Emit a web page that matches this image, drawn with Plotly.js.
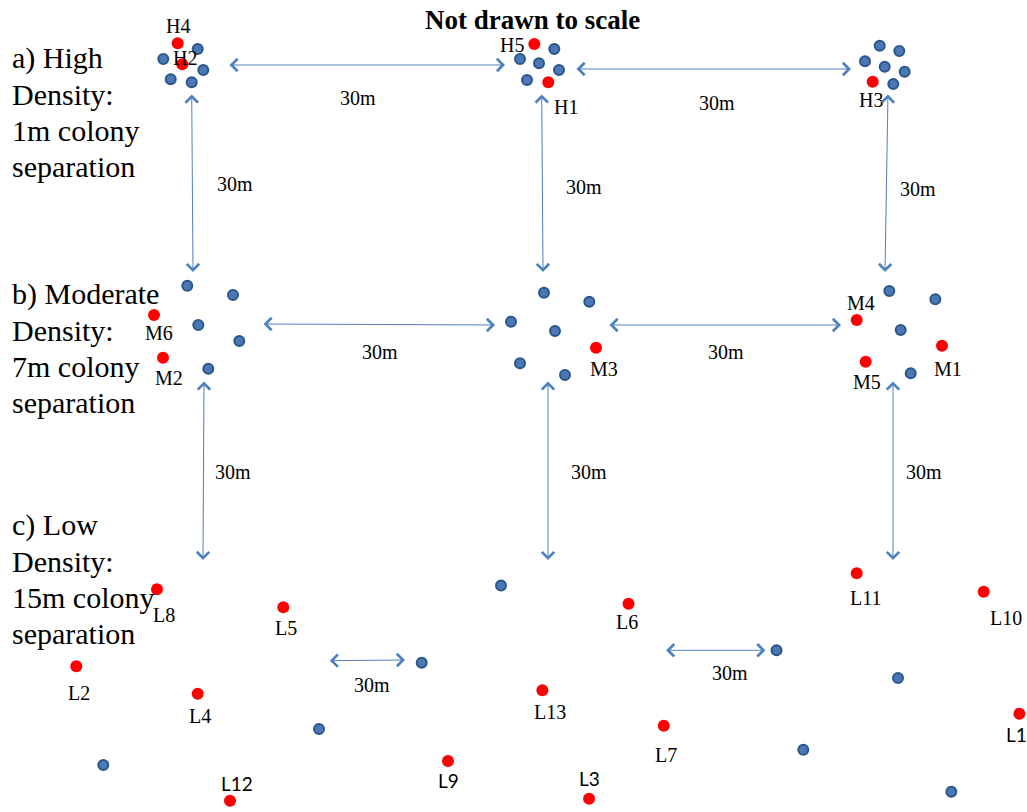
<!DOCTYPE html>
<html>
<head>
<meta charset="utf-8">
<script src="https://cdn.plot.ly/plotly-3.0.1.min.js"></script>
<style>html,body{margin:0;padding:0;background:#fff;}#chart{width:1027px;height:812px;}</style>
</head>
<body>
<div id="chart"></div>
<script>
// ---- data (positions on the schematic, px-like units) ----
const blueX = [197.7,163.3,203.3,170.7,191.7, 554.3,520,539,559,527, 879.7,899.3,865,884.7,904.7,893.3,
               187.3,233,198.3,239.3,208.3, 544,589.3,511,555,520,565, 889.3,935.3,900.7,910.7,
               421.7,319,103.3,501,776.5,898,803.3,951.3];
const blueY = [49,59,70,79.3,82.3, 49,59,63.3,70,80, 45.7,51,61.3,66.7,71.7,84,
               285.7,295,325,341,368.7, 292.7,301.7,321.7,331,363.3,375, 291,299.3,330,373.3,
               662.7,729,765,585.5,650.3,678,749.7,791.7];

const redX = [177.7,182.3,534.3,548.3,872.7, 154,163,596,856.7,942,865.7,
              157,283.3,76.3,197.7,230,448,628.5,856.7,983.7,542.4,663.8,1019.4,589.1];
const redY = [43.3,64.3,44,82.3,81.7, 315,357.7,347.7,320,345.7,361.7,
              589.3,607.3,666.3,693.7,800.7,761,603.7,573.3,591.7,690.3,725.7,713.7,798.7];
const redName = ['H4','H2','H5','H1','H3', 'M6','M2','M3','M4','M1','M5',
                 'L8','L5','L2','L4','L12','L9','L6','L11','L10','L13','L7','L1','L3'];
// label centres for each red colony
const labX = [178,185,512,566,871, 159,168.5,604,861,947.5,867,
              163.5,286,79,200,236.5,448,627,865,1006,550,666,1016,589];
const labY = [26,58,45,107,100, 333,378,369,303,369,382,
              615,628,693,716,783,780,622,598,618,712,755,734,778];
const sansLabels = ['L12','L9','L3','L1'];

// double-headed distance arrows
const arrX1 = [228,575, 191.7,541.7,888, 262,608, 204,548,893, 328.3,664.6];
const arrY1 = [65,69, 93,93,93, 324,325, 380,380,380, 660.7,650.3];
const arrX2 = [505,851, 193,543,885, 495,841, 203,548,893, 405,765.4];
const arrY2 = [65,69, 272,272,272, 325,325, 560,560,560, 660,650.3];
const distLabel = '30m';
const distX = [358,717,235,584,918,380,726,233,589,924,372,729.7];
const distY = [98,103,184,187,189,352,352,472,472,472,685,673.3];

// group headings
const groupLines = [
  ['a) High','Density:','1m colony','separation'],
  ['b) Moderate','Density:','7m colony','separation'],
  ['c) Low','Density:','15m colony','separation']
];
const groupTop = [58,294,525];
const titleText = 'Not drawn to scale';

// ---- build ----
const serif = 'Liberation Serif, Times New Roman, serif';
const traces = [
  {x: blueX, y: blueY, mode:'markers', type:'scatter', hoverinfo:'skip',
   marker:{size:10, color:'#4a78b4', line:{color:'#2c5689', width:2}}},
  {x: redX, y: redY, mode:'markers', type:'scatter', hoverinfo:'skip',
   marker:{size:12, color:'#ff0000', line:{width:0}}}
];

const ann = [];
ann.push({x:532, y:20, xref:'x', yref:'y', text:'<b>'+titleText+'</b>', showarrow:false,
  font:{family:serif, size:27, color:'#000'}});
groupLines.forEach((lines,g)=>{
  lines.forEach((t,i)=>{
    ann.push({x:10, y:groupTop[g]+36*i, xref:'x', yref:'y', text:t, showarrow:false,
      xanchor:'left', yanchor:'middle', font:{family:serif, size:30, color:'#000'}});
  });
});
redName.forEach((n,i)=>{
  const sans = sansLabels.includes(n);
  ann.push({x:labX[i], y:labY[i], xref:'x', yref:'y', text:n, showarrow:false,
    xanchor:'center', yanchor:'middle',
    font:{family: sans ? 'Lato, Carlito, sans-serif' : serif, size: sans?19:20, color:'#000'}});
});
arrX1.forEach((x1,i)=>{
  ann.push({x:arrX2[i], y:arrY2[i], ax:x1, ay:arrY1[i], xref:'x', yref:'y', axref:'x', ayref:'y',
    text:'', showarrow:true, arrowside:'end+start', arrowhead:4, startarrowhead:4,
    arrowsize:2.4, startarrowsize:2.4, arrowwidth:1, arrowcolor:'#4f81bd',
    standoff:0, startstandoff:0});
});
distX.forEach((x,i)=>{
  ann.push({x:x, y:distY[i], xref:'x', yref:'y', text:distLabel, showarrow:false,
    font:{family:serif, size:20, color:'#000'}});
});

const layout = {
  width:1027, height:812, margin:{l:0,r:0,t:0,b:0},
  paper_bgcolor:'#fff', plot_bgcolor:'#fff', showlegend:false,
  xaxis:{range:[0,1027], visible:false, fixedrange:true},
  yaxis:{range:[812,0], visible:false, fixedrange:true},
  annotations: ann
};
Plotly.newPlot('chart', traces, layout, {staticPlot:true, displayModeBar:false});
</script>
</body>
</html>
